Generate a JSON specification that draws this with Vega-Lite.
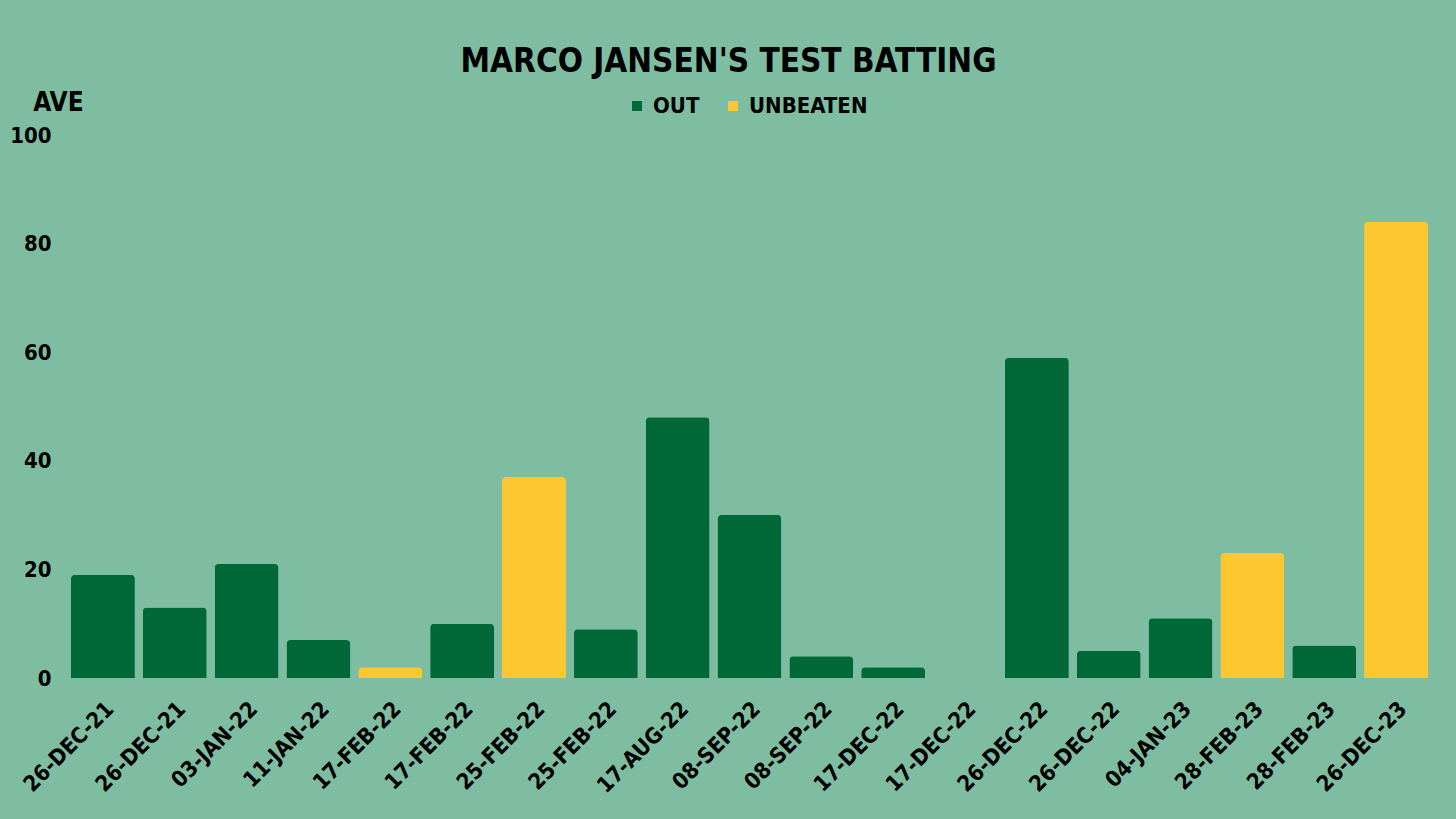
{
  "$schema": "https://vega.github.io/schema/vega-lite/v6.json",
  "width": 1365,
  "height": 543,
  "autosize": {"type": "none"},
  "padding": {"left": 67, "top": 135, "right": 24, "bottom": 141},
  "background": "#7ebda1",
  "title": {
    "text": "MARCO JANSEN'S TEST BATTING",
    "anchor": "middle",
    "dx": -21,
    "offset": 10,
    "fontSize": 33,
    "font": "DejaVu Sans Condensed",
    "fontWeight": "bold",
    "color": "#000000"
  },
  "data": {
    "values": [
      {"match": "26-DEC-21|1", "ave": 19, "status": "OUT"},
      {"match": "26-DEC-21|2", "ave": 13, "status": "OUT"},
      {"match": "03-JAN-22|1", "ave": 21, "status": "OUT"},
      {"match": "11-JAN-22|1", "ave": 7, "status": "OUT"},
      {"match": "17-FEB-22|1", "ave": 2, "status": "UNBEATEN"},
      {"match": "17-FEB-22|2", "ave": 10, "status": "OUT"},
      {"match": "25-FEB-22|1", "ave": 37, "status": "UNBEATEN"},
      {"match": "25-FEB-22|2", "ave": 9, "status": "OUT"},
      {"match": "17-AUG-22|1", "ave": 48, "status": "OUT"},
      {"match": "08-SEP-22|1", "ave": 30, "status": "OUT"},
      {"match": "08-SEP-22|2", "ave": 4, "status": "OUT"},
      {"match": "17-DEC-22|1", "ave": 2, "status": "OUT"},
      {"match": "17-DEC-22|2", "ave": 0, "status": "OUT"},
      {"match": "26-DEC-22|1", "ave": 59, "status": "OUT"},
      {"match": "26-DEC-22|2", "ave": 5, "status": "OUT"},
      {"match": "04-JAN-23|1", "ave": 11, "status": "OUT"},
      {"match": "28-FEB-23|1", "ave": 23, "status": "UNBEATEN"},
      {"match": "28-FEB-23|2", "ave": 6, "status": "OUT"},
      {"match": "26-DEC-23|1", "ave": 84, "status": "UNBEATEN"}
    ]
  },
  "mark": {"type": "bar", "cornerRadiusTopLeft": 4, "cornerRadiusTopRight": 4},
  "encoding": {
    "x": {
      "field": "match",
      "type": "nominal",
      "sort": null,
      "scale": {"paddingInner": 0.11, "paddingOuter": 0.055},
      "axis": {
        "title": null,
        "labelExpr": "split(datum.label, '|')[0]",
        "labelAngle": -45,
        "labelAlign": "right",
        "labelBaseline": "top",
        "labelPadding": 20,
        "labelFontSize": 22,
        "labelFont": "DejaVu Sans Condensed",
        "labelFontWeight": "bold",
        "labelColor": "#000000",
        "ticks": false,
        "domain": false
      }
    },
    "y": {
      "field": "ave",
      "type": "quantitative",
      "scale": {"domain": [0, 100]},
      "axis": {
        "values": [0, 20, 40, 60, 80, 100],
        "grid": false,
        "ticks": false,
        "domain": false,
        "labelPadding": 16,
        "labelFontSize": 22,
        "labelFont": "DejaVu Sans Condensed",
        "labelFontWeight": "bold",
        "labelColor": "#000000",
        "title": "AVE",
        "titleAngle": 0,
        "titleX": -9,
        "titleY": -25,
        "titleAlign": "center",
        "titleBaseline": "alphabetic",
        "titleFontSize": 26,
        "titleFont": "DejaVu Sans Condensed",
        "titleFontWeight": "bold",
        "titleColor": "#000000"
      }
    },
    "color": {
      "field": "status",
      "type": "nominal",
      "scale": {"domain": ["OUT", "UNBEATEN"], "range": ["#006837", "#fdc82f"]},
      "legend": {
        "title": null,
        "orient": "none",
        "direction": "horizontal",
        "legendX": 559,
        "legendY": -40,
        "symbolType": "square",
        "symbolSize": 100,
        "symbolOpacity": 1,
        "labelOffset": 5,
        "columnPadding": 22,
        "labelFontSize": 22,
        "labelFont": "DejaVu Sans Condensed",
        "labelFontWeight": "bold",
        "labelColor": "#000000"
      }
    }
  },
  "config": {"view": {"stroke": null}}
}
